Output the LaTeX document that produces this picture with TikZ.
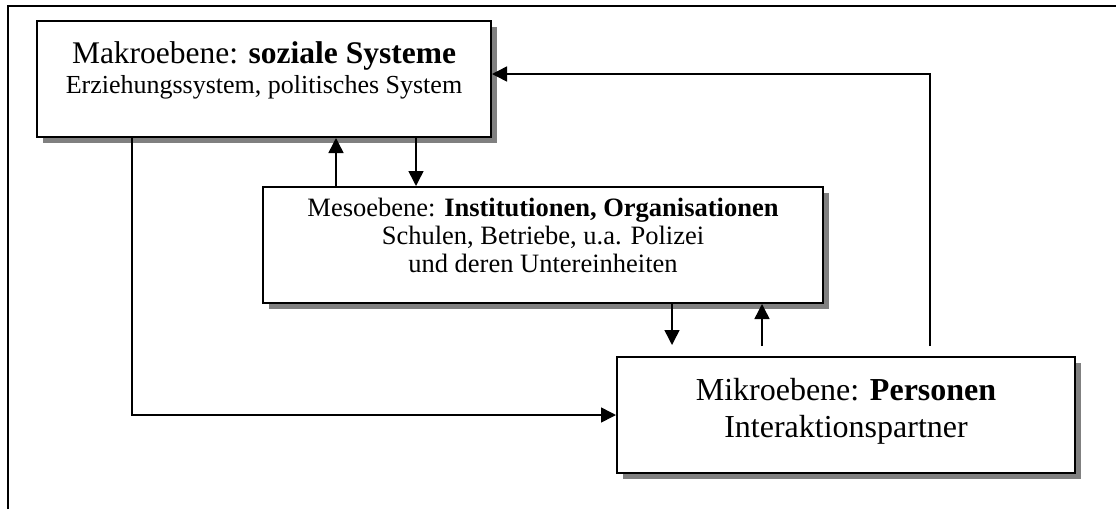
\documentclass[tikz,border=0pt]{standalone}
\usepackage{fontspec}
\setmainfont{Liberation Serif}
\usetikzlibrary{arrows.meta,shadows,positioning}

\begin{document}
\begin{tikzpicture}
	[
	 %Styles
	 x=1pt, y=-1pt,
	 level_box/.style={rectangle,draw=black,line width=2pt,fill=white,inner sep=0pt,
	   drop shadow={shadow xshift=6pt,shadow yshift=-6pt,fill=black!50,opacity=1}},
	 flow/.style={line width=1.5pt,-{Triangle[length=15pt,width=15pt]}},
	 frame_line/.style={line width=2pt}
	]
	\useasboundingbox (0,0) rectangle (1116,509);

	%Outer frame
	\draw[frame_line] (7.5,509) |- (1116,6);

	%Levels
	\node (makro) [level_box] at (264,79)
	  {\parbox[c][116pt][t]{454pt}{\centering\vspace*{21pt}%
	   {\fontsize{31.5}{31.5}\selectfont Makroebene: \textbf{soziale Systeme}\par}%
	   {\fontsize{26}{30}\selectfont Erziehungssystem, politisches System\par}}};
	\node (meso) [level_box] at (543,245)
	  {\parbox[c][116pt][t]{560pt}{\centering\vspace*{11pt}%
	   {\fontsize{26.5}{28}\selectfont Mesoebene: \textbf{Institutionen, Organisationen}\par
	    Schulen, Betriebe, u.a. Polizei\par
	    und deren Untereinheiten\par}}};
	\node (mikro) [level_box] at (846,415)
	  {\parbox[c][116pt][t]{458pt}{\centering\vspace*{21pt}%
	   {\fontsize{32}{37}\selectfont Mikroebene: \textbf{Personen}\par
	    Interaktionspartner\par}}};

	%Free ends above the micro level
	\coordinate (gap_down) at ([xshift=56pt,yshift=11pt]mikro.north west);
	\coordinate (gap_up) at ([xshift=146pt,yshift=10pt]mikro.north west);
	\coordinate (gap_back) at ([xshift=314pt,yshift=10pt]mikro.north west);

	%Edges
	\draw[flow] ([xshift=96pt]makro.south west) |- (mikro.west);
	\draw[flow] ([xshift=74pt]meso.north west) -- ([xshift=74pt]meso.north west |- makro.south);
	\draw[flow] ([xshift=154pt]meso.north west |- makro.south) -- ([xshift=154pt]meso.north west);
	\draw[flow] (meso.south -| gap_down) -- (gap_down);
	\draw[flow] (gap_up) -- (meso.south -| gap_up);
	\draw[flow] (gap_back) |- ([yshift=5pt]makro.east);
\end{tikzpicture}
\end{document}
